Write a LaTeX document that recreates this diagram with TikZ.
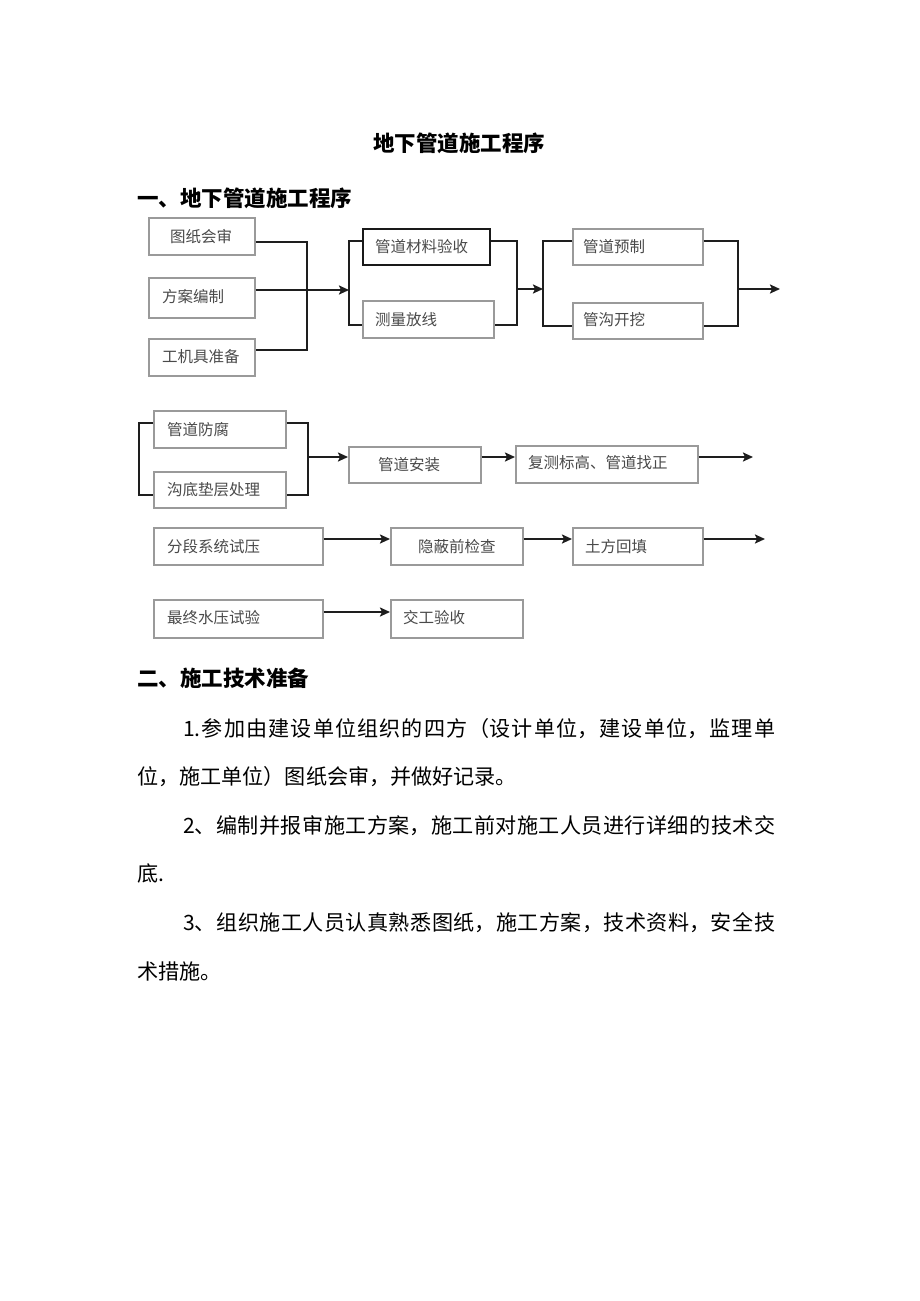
\documentclass[tikz,border=0pt]{standalone}
\usepackage{fontspec}
\setmainfont{Noto Sans CJK SC}
\usetikzlibrary{arrows.meta}
\XeTeXlinebreaklocale "zh"
\XeTeXlinebreakskip = 0pt plus 2pt
\definecolor{boxgray}{HTML}{9A9A9A}
\definecolor{labgray}{HTML}{4A4A4A}
\definecolor{linec}{HTML}{1E1E1E}
\tikzset{
  box/.style={draw=boxgray, line width=1.5pt, inner sep=0pt, anchor=north west},
  dbox/.style={box, draw=black!90, line width=1.8pt},
  lbl/.style={anchor=west, inner sep=0pt, text=labgray, font=\fontsize{15.5}{18}\selectfont},
  conn/.style={draw=linec, line width=2.1pt},
  arr/.style={conn, -{Stealth[length=10pt,width=9pt,inset=2pt]}},
  head/.style={anchor=west, inner sep=0pt, font=\bfseries\fontsize{21.5}{26}\selectfont},
  para/.style={anchor=base west, inner sep=0pt, text width=638pt, align=justify,
    font=\fontsize{21.1}{48.6}\selectfont},
}
\begin{document}
\begin{tikzpicture}[x=1pt,y=-1pt]
\useasboundingbox[fill=white] (0,0) rectangle (920,1301);

% titles
\node[head, anchor=center] (title) at (459,143) {地下管道施工程序};
\node[head] (h1) at (137,198) {一、地下管道施工程序};
\node[head] (h2) at (137,678) {二、施工技术准备};

% row 1 boxes
\node[box, minimum width=106pt, minimum height=37pt] (b1) at (148,217) {};
\node[box, minimum width=106pt, minimum height=40pt] (b2) at (148,277) {};
\node[box, minimum width=106pt, minimum height=37pt] (b3) at (148,338) {};
\node[dbox, minimum width=127pt, minimum height=36pt] (b4) at (362,228) {};
\node[box, minimum width=131pt, minimum height=37pt] (b5) at (362,300) {};
\node[box, minimum width=130pt, minimum height=36pt] (b6) at (572,228) {};
\node[box, minimum width=130pt, minimum height=36pt] (b7) at (572,302) {};
% row 2
\node[box, minimum width=132pt, minimum height=37pt] (b8) at (153,410) {};
\node[box, minimum width=132pt, minimum height=36pt] (b9) at (153,471) {};
\node[box, minimum width=132pt, minimum height=36pt] (b10) at (348,446) {};
\node[box, minimum width=182pt, minimum height=37pt] (b11) at (515,445) {};
% row 3
\node[box, minimum width=169pt, minimum height=37pt] (b12) at (153,527) {};
\node[box, minimum width=132pt, minimum height=37pt] (b13) at (390,527) {};
\node[box, minimum width=130pt, minimum height=37pt] (b14) at (572,527) {};
% row 4
\node[box, minimum width=169pt, minimum height=38pt] (b15) at (153,599) {};
\node[box, minimum width=132pt, minimum height=38pt] (b16) at (390,599) {};

% labels
\node[lbl] (t1) at (170,237) {图纸会审};
\node[lbl] (t2) at (162,297) {方案编制};
\node[lbl] (t3) at (162,357) {工机具准备};
\node[lbl] (t4) at (375,247) {管道材料验收};
\node[lbl] (t5) at (375,320) {测量放线};
\node[lbl] (t6) at (583,247) {管道预制};
\node[lbl] (t7) at (583,320) {管沟开挖};
\node[lbl] (t8) at (167,430) {管道防腐};
\node[lbl] (t9) at (167,490) {沟底垫层处理};
\node[lbl] (t10) at (378,465) {管道安装};
\node[lbl] (t11) at (528,463) {复测标高、管道找正};
\node[lbl] (t12) at (167,547) {分段系统试压};
\node[lbl] (t13) at (418,547) {隐蔽前检查};
\node[lbl] (t14) at (585,547) {土方回填};
\node[lbl] (t15) at (167,618) {最终水压试验};
\node[lbl] (t16) at (403,618) {交工验收};

% helper coordinates
\coordinate (ja) at (307,242);
\coordinate (jb) at (307,350);
\coordinate (k1) at (349,290);
\coordinate (k1a) at (349,241);
\coordinate (k1b) at (349,325);
\coordinate (m1a) at (517,241);
\coordinate (m1b) at (517,325);
\coordinate (m1c) at (517,289);
\coordinate (k2) at (543,289);
\coordinate (k2a) at (543,241);
\coordinate (k2b) at (543,326);
\coordinate (m2a) at (738,241);
\coordinate (m2b) at (738,326);
\coordinate (m2c) at (738,289);
\coordinate (e1) at (780,289);
\coordinate (n1a) at (139,423);
\coordinate (n1b) at (139,495);
\coordinate (n2a) at (308,423);
\coordinate (n2b) at (308,495);
\coordinate (n2c) at (308,457);
\coordinate (e2) at (753,457);
\coordinate (r3) at (0,539);
\coordinate (e3) at (765,539);
\coordinate (r4) at (0,612);

% row 1 connectors
\draw[conn] (b1.east |- ja) -- (ja) -- (jb) -- (b3.east |- jb);
\draw[arr] (b2.east |- k1) -- (k1);
\draw[conn] (b4.west |- k1a) -- (k1a) -- (k1b) -- (b5.west |- k1b);
\draw[conn] (b4.east |- m1a) -- (m1a) -- (m1b) -- (b5.east |- m1b);
\draw[arr] (m1c) -- (k2);
\draw[conn] (b6.west |- k2a) -- (k2a) -- (k2b) -- (b7.west |- k2b);
\draw[conn] (b6.east |- m2a) -- (m2a) -- (m2b) -- (b7.east |- m2b);
\draw[arr] (m2c) -- (e1);

% row 2 connectors
\draw[conn] (b8.west |- n1a) -- (n1a) -- (n1b) -- (b9.west |- n1b);
\draw[conn] (b8.east |- n2a) -- (n2a) -- (n2b) -- (b9.east |- n2b);
\draw[arr] (n2c) -- (b10.west |- n2c);
\draw[arr] (b10.east |- n2c) -- (b11.west |- n2c);
\draw[arr] (b11.east |- n2c) -- (e2);

% row 3 connectors
\draw[arr] (b12.east |- r3) -- (b13.west |- r3);
\draw[arr] (b13.east |- r3) -- (b14.west |- r3);
\draw[arr] (b14.east |- r3) -- (e3);

% row 4 connector
\draw[arr] (b15.east |- r4) -- (b16.west |- r4);

% body text
\node[para] (p1) at (137,736) {%
\hspace*{46pt}1.参加由建设单位组织的四方（设计单位，建设单位，监理单\linebreak
位，施工单位）图纸会审，并做好记录。\par
\hspace*{46pt}2、编制并报审施工方案，施工前对施工人员进行详细的技术交\linebreak
底.\par
\hspace*{46pt}3、组织施工人员认真熟悉图纸，施工方案，技术资料，安全技\linebreak
术措施。};
\end{tikzpicture}
\end{document}
